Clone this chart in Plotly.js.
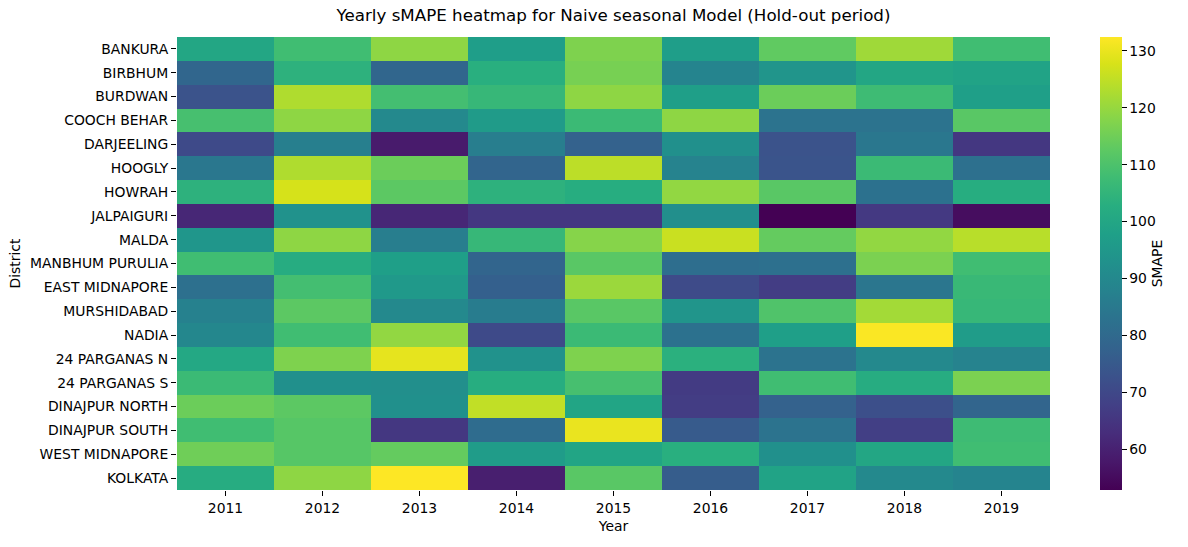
<!DOCTYPE html>
<html>
<head>
<meta charset="utf-8">
<script src="https://cdn.plot.ly/plotly-3.0.1.min.js"></script>
<style>html,body{margin:0;padding:0;background:#fff;}#chart{width:1188px;height:547px;}</style>
</head>
<body>
<div id="chart"></div>
<script>
const years = ["2011","2012","2013","2014","2015","2016","2017","2018","2019"];
const districts = ["BANKURA","BIRBHUM","BURDWAN","COOCH BEHAR","DARJEELING","HOOGLY","HOWRAH","JALPAIGURI","MALDA","MANBHUM PURULIA","EAST MIDNAPORE","MURSHIDABAD","NADIA","24 PARGANAS N","24 PARGANAS S","DINAJPUR NORTH","DINAJPUR SOUTH","WEST MIDNAPORE","KOLKATA"];
const bankura        = [100.0, 108.0, 119.0, 97.0, 117.0, 97.0, 113.0, 121.0, 108.0];
const birbhum        = [79.0, 104.0, 79.0, 103.0, 116.0, 88.5, 94.0, 100.0, 99.0];
const burdwan        = [73.0, 123.0, 108.5, 106.0, 119.0, 97.5, 114.5, 107.5, 97.5];
const coochBehar     = [109.0, 119.0, 90.0, 96.0, 107.0, 119.0, 83.0, 83.0, 112.0];
const darjeeling     = [70.5, 87.0, 58.5, 86.5, 77.5, 92.5, 73.0, 84.5, 65.5];
const hoogly         = [84.5, 123.0, 114.5, 78.5, 124.5, 88.0, 73.5, 107.0, 82.0];
const howrah         = [104.0, 127.5, 112.5, 104.0, 102.5, 119.5, 112.0, 82.5, 102.5];
const jalpaiguri     = [61.5, 93.0, 61.5, 65.5, 65.5, 92.0, 52.9, 66.0, 55.5];
const malda          = [94.5, 119.0, 86.5, 106.0, 118.0, 126.0, 113.5, 119.5, 124.0];
const manbhumPurulia = [108.0, 102.0, 97.5, 78.5, 112.0, 81.5, 82.0, 116.5, 108.0];
const eastMidnapore  = [82.0, 108.5, 95.5, 77.0, 120.5, 71.0, 67.0, 84.0, 106.5];
const murshidabad    = [87.5, 112.5, 90.0, 86.0, 112.0, 94.0, 110.5, 121.5, 106.0];
const nadia          = [89.5, 108.0, 119.5, 70.5, 107.0, 82.5, 97.5, 132.0, 96.5];
const parganasN      = [100.5, 117.0, 129.5, 93.0, 117.0, 103.5, 83.0, 90.0, 88.0];
const parganasS      = [107.0, 92.5, 92.0, 102.5, 109.0, 66.5, 108.0, 102.0, 116.5];
const dinajpurNorth  = [114.5, 112.5, 92.5, 125.0, 99.5, 67.0, 77.5, 72.0, 78.5];
const dinajpurSouth  = [108.0, 111.5, 65.5, 81.0, 130.0, 75.5, 83.0, 67.5, 107.5];
const westMidnapore  = [115.0, 111.5, 113.5, 96.5, 99.5, 103.0, 92.5, 100.0, 108.0];
const kolkata        = [102.0, 119.0, 132.4, 59.5, 112.0, 76.0, 99.0, 90.0, 88.5];

const z = [bankura, birbhum, burdwan, coochBehar, darjeeling, hoogly, howrah, jalpaiguri, malda,
  manbhumPurulia, eastMidnapore, murshidabad, nadia, parganasN, parganasS, dinajpurNorth,
  dinajpurSouth, westMidnapore, kolkata];

const font = {family: "DejaVu Sans", size: 13.9, color: "#000"};

const trace = {
  type: "heatmap",
  x: years,
  y: districts,
  z: z,
  colorscale: "Viridis",
  hoverinfo: "skip",
  colorbar: {
    x: 1.0573, xanchor: "left", xref: "paper", xpad: 0,
    y: 0.5, yanchor: "middle", len: 1, lenmode: "fraction", ypad: 0,
    thickness: 22, thicknessmode: "pixels",
    outlinewidth: 0,
    ticks: "outside", ticklen: 5, tickwidth: 1, tickcolor: "#000",
    tickvals: [60,70,80,90,100,110,120,130],
    tickfont: font,
    title: {text: "SMAPE", side: "right", font: font}
  }
};

const layout = {
  width: 1188, height: 547,
  margin: {l: 177, r: 138, t: 37, b: 57, pad: 0},
  paper_bgcolor: "#fff", plot_bgcolor: "#fff",
  font: font,
  title: {text: "Yearly sMAPE heatmap for Naive seasonal Model (Hold-out period)",
          x: 0.5, xref: "paper", y: 1, yref: "container", yanchor: "top", pad: {t: 9},
          font: {family: "DejaVu Sans", size: 16.7, color: "#000"}},
  xaxis: {type: "category", showgrid: false, zeroline: false, showline: false,
          ticks: "outside", ticklen: 5, tickwidth: 1, tickcolor: "#000",
          tickfont: font, title: {text: "Year", font: font, standoff: 6}},
  yaxis: {type: "category", autorange: "reversed", showgrid: false, zeroline: false, showline: false,
          ticks: "outside", ticklen: 5, tickwidth: 1, tickcolor: "#000",
          tickfont: font, title: {text: "District", font: font, standoff: 6}}
};

Plotly.newPlot("chart", [trace], layout, {displayModeBar: false, staticPlot: true});
</script>
</body>
</html>
